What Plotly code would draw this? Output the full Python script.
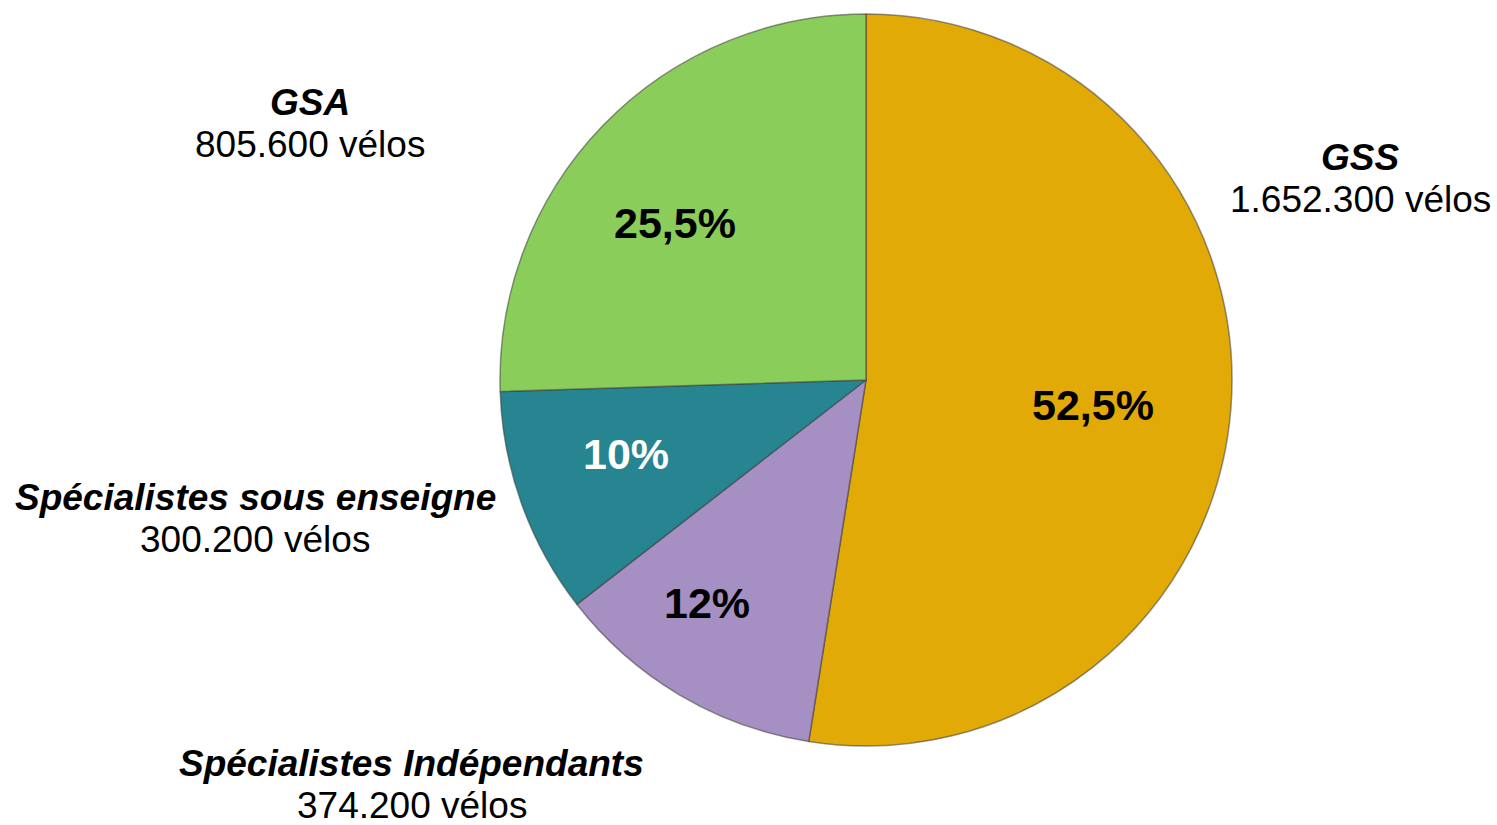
import plotly.graph_objects as go

# Data
categories = ["GSS", "Spécialistes Indépendants", "Spécialistes sous enseigne", "GSA"]
shares_pct = [52.5, 12, 10, 25.5]
share_labels = ["52,5%", "12%", "10%", "25,5%"]
units_labels = ["1.652.300 vélos", "374.200 vélos", "300.200 vélos", "805.600 vélos"]

colors = ["#E1AA07", "#A68FC2", "#268590", "#8BCD5B"]
pct_font_colors = ["black", "black", "white", "black"]

W, H = 1497, 825
cx, cy, r = 866, 380, 366

fig = go.Figure(go.Pie(
    labels=categories,
    values=shares_pct,
    sort=False,
    direction="clockwise",
    rotation=0,
    textinfo="none",
    hoverinfo="label+percent",
    marker=dict(colors=colors, line=dict(color="rgba(60,60,60,0.55)", width=1.5)),
    domain=dict(x=[(cx - r) / W, (cx + r) / W], y=[(H - cy - r) / H, (H - cy + r) / H]),
    showlegend=False,
))

def px(x, y):
    return x / W, 1 - y / H

FONT = "Liberation Sans, Arial"

# Percent labels inside slices (reference pixel positions)
pct_pos = [(1093, 405), (707, 603), (626, 454), (675, 223)]
annotations = []
for (x, y), t, c in zip(pct_pos, share_labels, pct_font_colors):
    ax, ay = px(x, y)
    annotations.append(dict(x=ax, y=ay, xref="paper", yref="paper", text=f"<b>{t}</b>",
                            showarrow=False, xanchor="center", yanchor="middle",
                            font=dict(size=43, color=c, family=FONT)))

# Outer category labels
title_pos = [(1360, 157), (412, 763), (255, 497), (310, 102)]
for (x, y), name, u in zip(title_pos, categories, units_labels):
    ax, ay = px(x, y)
    annotations.append(dict(x=ax, y=ay, xref="paper", yref="paper", text=f"<b><i>{name}</i></b>",
                            showarrow=False, xanchor="center", yanchor="middle",
                            font=dict(size=37, color="black", family=FONT)))
    ax2, ay2 = px(x, y + 42)
    annotations.append(dict(x=ax2, y=ay2, xref="paper", yref="paper", text=u,
                            showarrow=False, xanchor="center", yanchor="middle",
                            font=dict(size=37, color="black", family=FONT)))

fig.update_layout(
    width=W, height=H,
    margin=dict(l=0, r=0, t=0, b=0),
    paper_bgcolor="white", plot_bgcolor="white",
    annotations=annotations,
)

fig.write_html("out.html", config={"displayModeBar": False},
               post_script="document.body.style.margin='0';document.body.style.overflow='hidden';")
